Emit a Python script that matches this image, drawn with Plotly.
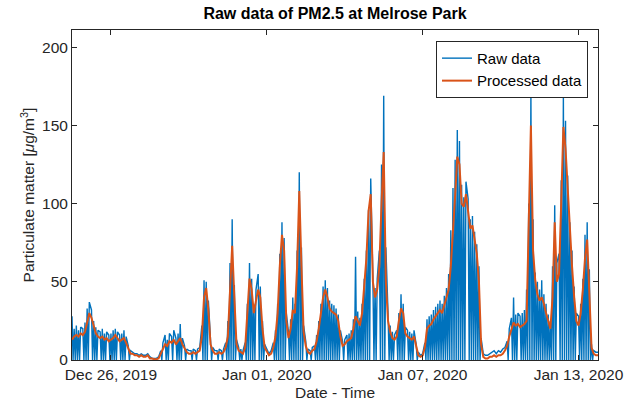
import plotly.graph_objects as go
import pandas as pd

# ---- data (2-hour samples starting 2019-12-24 12:00) ----
start_time = "2019-12-24 12:00"
step_hours = 2

processed = [
    13, 15, 16, 15, 17, 16, 18, 24, 30, 27,
    21, 17, 15, 14, 15, 13, 14, 12, 13, 14,
    16, 14, 12, 13, 14, 11, 7, 4, 4, 3,
    3, 2, 3, 2, 2, 3, 1, 1, 0.5, 0.5,
    1, 4, 8, 10, 9, 12, 11, 13, 10, 12,
    14, 10, 7, 5, 4, 4, 5, 4, 5, 6,
    15, 40, 46, 32, 10, 6, 4, 4, 5, 4,
    5, 8, 15, 45, 73, 40, 10, 6, 5, 4,
    8, 30, 52, 45, 30, 38, 45, 40, 20, 8,
    5, 3, 4, 8, 15, 30, 60, 80, 70, 25,
    14, 20, 32, 30, 60, 108, 60, 18, 9, 5,
    4, 6, 7, 12, 20, 30, 40, 45, 40, 33,
    31, 30, 29, 25, 15, 9, 10, 12, 13, 14,
    20, 28, 25, 22, 30, 45, 65, 95, 106, 50,
    40, 45, 60, 100, 133, 50, 25, 18, 14, 13,
    15, 25, 33, 30, 17, 15, 14, 13, 15, 8,
    3, 2, 3, 8, 20, 22, 23, 26, 28, 30,
    32, 30, 35, 40, 45, 60, 80, 105, 130, 125,
    100, 98, 106, 95, 84, 86, 76, 68, 50, 10,
    2, 1, 1, 2, 2, 3, 2, 3, 3, 4,
    6, 9, 15, 20, 24, 22, 23, 21, 22, 23,
    25, 80, 150, 70, 51, 42, 38, 40, 36, 30,
    24, 20, 40, 88, 50, 55, 100, 149, 135, 110,
    80, 60, 40, 25, 22, 30, 45, 65, 77, 40,
    8, 4, 3, 3,
]

raw_peaks = [
    28, 20, 22, 19, 21, 20, 24, 33, 37, 32,
    25, 21, 19, 18, 20, 17, 18, 16, 17, 19,
    20, 18, 16, 17, 19, 15, 9, 6, 5, 4,
    4, 3, 4, 3, 3, 4, 2, 1, 1, 1,
    2, 6, 11, 16, 13, 17, 15, 19, 14, 17,
    23, 14, 9, 7, 6, 6, 7, 6, 7, 8,
    22, 51, 50, 38, 13, 8, 6, 6, 7, 6,
    7, 11, 25, 62, 90, 48, 13, 8, 7, 6,
    11, 36, 62, 52, 36, 45, 55, 47, 25, 10,
    7, 4, 6, 11, 19, 36, 68, 88, 78, 30,
    18, 26, 40, 36, 70, 120, 72, 22, 12, 7,
    6, 8, 9, 16, 25, 36, 47, 51, 46, 38,
    36, 35, 33, 29, 19, 12, 13, 16, 17, 19,
    26, 66, 31, 27, 36, 52, 70, 96, 116, 52,
    46, 52, 70, 125, 169, 72, 30, 22, 18, 16,
    19, 30, 42, 36, 21, 19, 18, 17, 19, 10,
    5, 3, 4, 11, 26, 28, 29, 32, 34, 36,
    38, 36, 41, 46, 55, 83, 110, 128, 147, 140,
    112, 104, 114, 103, 90, 92, 82, 74, 60, 14,
    4, 3, 3, 4, 5, 6, 4, 6, 5, 7,
    8, 12, 20, 27, 40, 29, 30, 28, 30, 32,
    45, 100, 171, 90, 56, 50, 45, 51, 42, 36,
    29, 25, 60, 99, 62, 68, 115, 168, 153, 118,
    88, 70, 47, 30, 28, 36, 52, 80, 88, 58,
    10, 6, 5, 5,
]

# '1' = the raw sensor reading drops to zero one hour after this sample
dropouts = (
    "1111011101" "1101110111" "1011101000" "0000000000" "0101101011"
    "1010010100" "1110100101" "0111110110" "1111101110" "0001111110"
    "1111111010" "1011111111" "1111010111" "1111111101" "1011101110"
    "1111011101" "0001111111" "1111111111" "1101111110" "0000000000"
    "0101110111" "1111111111" "1111011111" "1110111111" "1000"
)

tick_dates = ["2019-12-26", "2020-01-01", "2020-01-07", "2020-01-13"]
tick_labels = ["Dec 26, 2019", "Jan 01, 2020", "Jan 07, 2020", "Jan 13, 2020"]
x_range = ["2019-12-24 12:00", "2020-01-13 18:00"]
y_ticks = [0, 50, 100, 150, 200]

# ---- build series ----
t0 = pd.Timestamp(start_time)
times = [t0 + pd.Timedelta(hours=step_hours * i) for i in range(len(processed))]

raw_x, raw_y = [], []
for i, (t, v) in enumerate(zip(times, raw_peaks)):
    raw_x.append(t)
    raw_y.append(v)
    if dropouts[i] == "1":
        raw_x.append(t + pd.Timedelta(hours=step_hours / 2))
        raw_y.append(0)

FONT = "Liberation Sans, Arial, Helvetica, sans-serif"
AX = "#262626"

fig = go.Figure()
fig.add_trace(go.Scatter(x=raw_x, y=raw_y, mode="lines", name="Raw data",
                         line=dict(color="#0072BD", width=1.4)))
fig.add_trace(go.Scatter(x=times, y=processed, mode="lines", name="Processed data",
                         line=dict(color="#D95319", width=2)))

fig.update_layout(
    width=636, height=410,
    margin=dict(l=72, r=36, t=30, b=46),
    paper_bgcolor="white", plot_bgcolor="white",
    font=dict(family=FONT, size=15.5, color=AX),
    title=dict(text="<b>Raw data of PM2.5 at Melrose Park</b>", x=0.5, xref="paper",
               y=1 - 13 / 410, yanchor="middle", font=dict(size=16, color="#000000")),
    showlegend=True,
    legend=dict(x=0.981, y=0.967, xanchor="right", yanchor="top",
                bgcolor="white", bordercolor=AX, borderwidth=1,
                font=dict(size=15, color="#000000"), tracegroupgap=0,
                itemwidth=30),
)
fig.update_xaxes(
    type="date", range=x_range,
    tickvals=tick_dates, ticktext=tick_labels,
    ticks="inside", ticklen=5, tickcolor=AX, tickwidth=1,
    showline=True, linecolor=AX, linewidth=1, mirror="ticks",
    showgrid=False, zeroline=False,
    title=dict(text="Date - Time", standoff=5, font=dict(size=15.5)),
)
fig.update_yaxes(
    range=[0, 211], tickvals=y_ticks,
    ticks="inside", ticklen=5, tickcolor=AX, tickwidth=1,
    showline=True, linecolor=AX, linewidth=1, mirror="ticks",
    showgrid=False, zeroline=False,
    title=dict(text="Particulate matter [<i>μ</i>g/m<sup>3</sup>]", standoff=3,
               font=dict(size=15.5)),
)

fig.write_html("out.html")
